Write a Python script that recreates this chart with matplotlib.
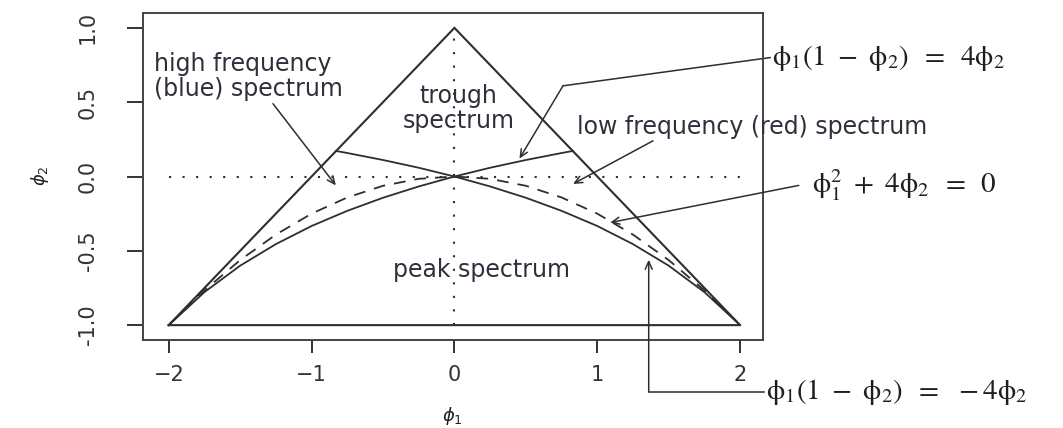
import matplotlib
matplotlib.use("Agg")
import matplotlib.pyplot as plt

# ---- data ----
triangle_x = [-2, 0, 2, -2]
triangle_y = [-1, 1, -1, -1]

# phi1(1-phi2) = 4 phi2
curve_a_x = [-2, -1.75, -1.5, -1.25, -1, -0.75, -0.5, -0.25, 0, 0.25, 0.5, 0.75, 0.83]
curve_a_y = [-1, -0.778, -0.6, -0.455, -0.333, -0.231, -0.143, -0.067, 0, 0.059, 0.111, 0.158, 0.172]

# phi1(1-phi2) = -4 phi2
curve_b_x = [-0.83, -0.75, -0.5, -0.25, 0, 0.25, 0.5, 0.75, 1, 1.25, 1.5, 1.75, 2]
curve_b_y = [0.172, 0.158, 0.111, 0.059, 0, -0.067, -0.143, -0.231, -0.333, -0.455, -0.6, -0.778, -1]

# phi1^2 + 4 phi2 = 0
parab_x = [-2, -1.75, -1.5, -1.25, -1, -0.75, -0.5, -0.25, 0, 0.25, 0.5, 0.75, 1, 1.25, 1.5, 1.75, 2]
parab_y = [-1, -0.766, -0.5625, -0.391, -0.25, -0.141, -0.0625, -0.0156, 0,
           -0.0156, -0.0625, -0.141, -0.25, -0.391, -0.5625, -0.766, -1]

hline_x = [-2, 2]
hline_y = [0, 0]
vline_x = [0, 0]
vline_y = [-1, 1]

x_ticks = [-2, -1, 0, 1, 2]
x_ticklabels = ["\u22122", "\u22121", "0", "1", "2"]
y_ticks = [-1.0, -0.5, 0.0, 0.5, 1.0]
y_ticklabels = ["-1.0", "-0.5", "0.0", "0.5", "1.0"]

LC = "#2e2e2e"
TC = "#30303c"

fig = plt.figure(figsize=(10.63, 4.28), dpi=100)
W, H = 1063, 428
ax = fig.add_axes([143 / W, 1 - 340 / H, (763 - 143) / W, (340 - 13) / H])
ax.set_xlim(-2.18, 2.16)
ax.set_ylim(-1.1, 1.1)

ax.plot(triangle_x, triangle_y, color=LC, lw=1.5, solid_joinstyle="miter")
ax.plot(curve_a_x, curve_a_y, color=LC, lw=1.3)
ax.plot(curve_b_x, curve_b_y, color=LC, lw=1.3)
ax.plot(parab_x, parab_y, color=LC, lw=1.3, linestyle=(0, (6.5, 5)))
ax.plot(hline_x, hline_y, color=LC, lw=1.5, linestyle=(0, (1, 5.5)))
ax.plot(vline_x, vline_y, color=LC, lw=1.5, linestyle=(0, (1, 5.5)))

for s in ax.spines.values():
    s.set_linewidth(1.4)
    s.set_color("#444444")

ax.set_xticks(x_ticks)
ax.set_xticklabels(x_ticklabels)
ax.set_yticks(y_ticks)
ax.set_yticklabels(y_ticklabels, rotation=90, va="center")
ax.tick_params(axis="x", length=9, width=1.4, pad=9, labelsize=15, colors="#333333")
ax.tick_params(axis="y", length=11.5, width=1.4, pad=21, labelsize=15, colors="#333333")

fig.text(40 / W, 1 - 176 / H, r"$\phi_2$", rotation=90, ha="center", va="center",
         fontsize=13, color="#222222")
fig.text(452 / W, 1 - 416 / H, r"$\phi_1$", ha="center", va="center",
         fontsize=13, color="#222222")

tfs = 17
ax.text(-2.10, 0.675, "high frequency\n(blue) spectrum", ha="left", va="center",
        fontsize=tfs, color=TC, linespacing=1.05)
ax.text(0.03, 0.46, "trough\nspectrum", ha="center", va="center",
        fontsize=tfs, color=TC, linespacing=1.05)
ax.text(0.19, -0.63, "peak spectrum", ha="center", va="center",
        fontsize=tfs, color=TC)
ax.text(0.86, 0.33, "low frequency (red) spectrum", ha="left", va="center",
        fontsize=tfs, color=TC, clip_on=False)

aprops = dict(arrowstyle="->,head_length=0.55,head_width=0.25", lw=1.1, color=LC,
              shrinkA=0, shrinkB=0)

ax.annotate("", xy=(-0.83, -0.06), xytext=(-1.27, 0.49), arrowprops=aprops,
            annotation_clip=False)
ax.annotate("", xy=(0.83, -0.05), xytext=(1.39, 0.24), arrowprops=aprops,
            annotation_clip=False)

efs = 21
eq_kw = dict(ha="left", va="center", fontsize=efs, math_fontfamily="stix",
             color="#1e1e1e", clip_on=False)
# phi1(1-phi2) = 4 phi2
ax.plot([2.21, 0.76], [0.80, 0.61], color=LC, lw=1.1, clip_on=False)
ax.annotate("", xy=(0.455, 0.12), xytext=(0.76, 0.61), arrowprops=aprops,
            annotation_clip=False)
ax.text(2.22, 0.80, r"$\mathrm{\phi_1(1\ -\ \phi_2)\;\;=\;\;4\phi_2}$", **eq_kw)

# phi1^2 + 4 phi2 = 0
ax.annotate("", xy=(1.09, -0.31), xytext=(2.41, -0.06), arrowprops=aprops,
            annotation_clip=False)
ax.text(2.50, -0.06, r"$\mathrm{\phi_1^2\ +\ 4\phi_2\;\;=\;\;0}$", **eq_kw)

# phi1(1-phi2) = -4 phi2
ax.plot([2.17, 1.36], [-1.45, -1.45], color=LC, lw=1.1, clip_on=False)
ax.annotate("", xy=(1.36, -0.56), xytext=(1.36, -1.45), arrowprops=aprops,
            annotation_clip=False)
ax.text(2.18, -1.45, r"$\mathrm{\phi_1(1\ -\ \phi_2)\;\;=\;\;-4\phi_2}$", **eq_kw)

fig.savefig("out.png", dpi=100)
